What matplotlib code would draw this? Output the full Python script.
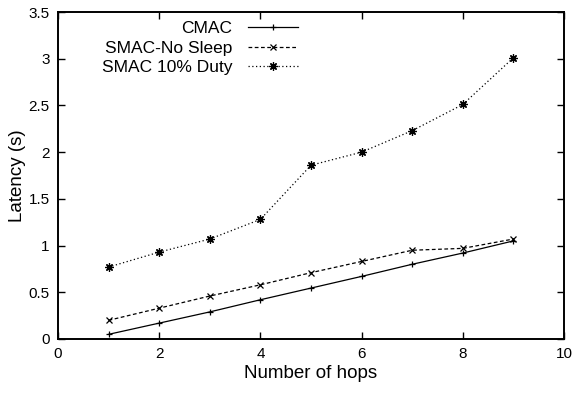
import numpy as np
import matplotlib
matplotlib.use('Agg')
import matplotlib.pyplot as plt

plt.rcParams['font.family'] = ['Liberation Sans', 'DejaVu Sans']

hops = [1, 2, 3, 4, 5, 6, 7, 8, 9]
cmac = [0.05, 0.17, 0.29, 0.42, 0.545, 0.67, 0.80, 0.92, 1.05]
smac_nosleep = [0.20, 0.33, 0.46, 0.58, 0.71, 0.83, 0.95, 0.97, 1.07]
smac_duty = [0.77, 0.93, 1.07, 1.28, 1.86, 2.00, 2.23, 2.51, 3.01]

W, H = 572, 393
fig = plt.figure(figsize=(W/100, H/100), dpi=100)
ax = fig.add_axes([58/W, 54/H, 506/W, 327/H])

ax.plot(hops, cmac, '-', color='black', lw=0.9, marker='+', ms=5, mew=0.9,
        label='CMAC')
ax.plot(hops, smac_nosleep, color='black', lw=0.9, ls=(0, (3, 2)), marker='x',
        ms=5, mew=0.9, label='SMAC-No Sleep')
ax.plot(hops, smac_duty, color='black', lw=0.9, ls=(0, (1, 2)), marker=(8, 2, 0),
        ms=6, mew=0.9, label='SMAC 10% Duty')

ax.set_xlim(0, 10)
ax.set_ylim(0, 3.5)
ax.set_xticks(np.arange(0, 11, 2))
ax.set_yticks(np.arange(0, 3.6, 0.5))
ax.set_yticklabels(['0', '0.5', '1', '1.5', '2', '2.5', '3', '3.5'])
ax.tick_params(direction='in', top=True, right=True, length=5, width=1,
               labelsize=11, pad=6)
for s in ax.spines.values():
    s.set_linewidth(1.4)

ax.set_xlabel('Number of hops', fontsize=13.5, labelpad=3)
ax.set_ylabel('Latency (s)', fontsize=13.5, labelpad=2)

# key drawn gnuplot-style: right-aligned labels, sample lines on the right
ax.legend(loc='upper right', bbox_to_anchor=(298/W, 1 - 21/H),
          bbox_transform=fig.transFigure, frameon=False, markerfirst=False,
          fontsize=12.5, handlelength=2.9, labelspacing=0.25,
          handletextpad=0.9, borderpad=0, borderaxespad=0)

fig.savefig('out.png', dpi=100)
